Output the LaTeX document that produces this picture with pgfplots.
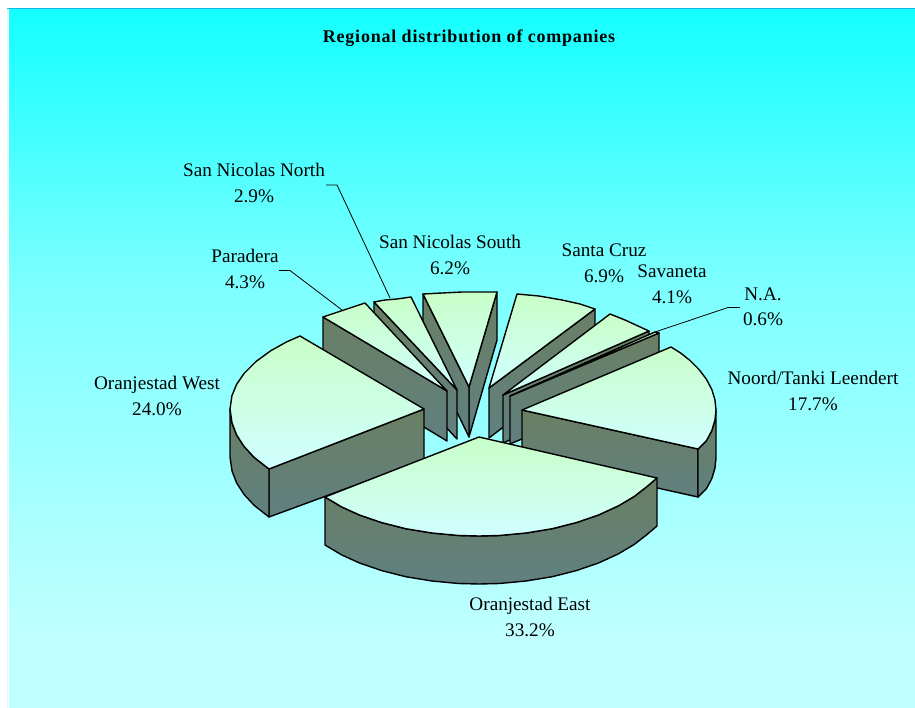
\documentclass[border=0pt]{standalone}
\usepackage{pgfplots}
\pgfplotsset{compat=1.18}
\usepackage{fontspec}
\setmainfont{Liberation Serif}
\newfontfamily\titlefont[LetterSpace=4.4]{Liberation Serif}
\definecolor{bg0}{RGB}{20,255,255}
\definecolor{bg1}{RGB}{125,255,255}
\definecolor{bg2}{RGB}{172,255,255}
\definecolor{bg3}{RGB}{192,255,255}
\definecolor{topA}{RGB}{200,255,200}
\definecolor{topB}{RGB}{208,255,255}
\definecolor{wallA}{RGB}{106,128,100}
\definecolor{wallB}{RGB}{96,128,128}
\definecolor{edgeL}{RGB}{225,245,245}
\pgfdeclareverticalshading{bgshade}{100bp}{color(0bp)=(bg3); color(29.9bp)=(bg3); color(37.7bp)=(bg2); color(55.3bp)=(bg1); color(75bp)=(bg0); color(100bp)=(bg0)}
\tikzset{
  topface/.style={draw=black, line width=1.4bp, line join=round, top color=topA, bottom color=topB},
  wall/.style={draw=black, line width=1.4bp, line join=round, top color=wallA, bottom color=wallB},
  leader/.style={draw=black, line width=0.8bp},
  lab/.style={anchor=base, inner sep=0pt, font=\fontsize{19.2bp}{23bp}\selectfont, text=black}
}
\begin{document}
\begin{tikzpicture}
\begin{axis}[
  at={(0,0)}, anchor=south west,
  width=915bp, height=708bp, scale only axis,
  xmin=0, xmax=915, ymin=0, ymax=708, y dir=reverse,
  axis lines=none, ticks=none, clip=true,
]
% white page
\addplot[fill=white, draw=none] coordinates {(0,0) (915,0) (915,708) (0,708)} -- cycle;
% frame and background
\addplot[fill=edgeL, draw=none] coordinates {(7,8) (915,8) (915,708) (7,708)} -- cycle;
\addplot[fill=cyan!90!white, draw=none] coordinates {(7,8) (915,8) (915,9) (7,9)} -- cycle;
\addplot[fill=white, draw=none] coordinates {(8,9) (915,9) (915,708) (8,708)} -- cycle;
\addplot[shade, shading=bgshade, draw=none] coordinates {(9,10) (915,10) (915,708) (9,708)} -- cycle;

% Santa Cruz
\addplot[wall] coordinates {(489,388) (595,309) (595,357) (489,438)} -- cycle;
\addplot[topface] coordinates {(489,388) (595,309) (580,304) (562,300) (539,296) (517,294)} -- cycle;
% San Nicolas South
\addplot[wall] coordinates {(469,387) (497,292) (497,340) (469,437)} -- cycle;
\addplot[wall] coordinates {(469,387) (423,294) (423,342) (469,437)} -- cycle;
\addplot[topface] coordinates {(469,387) (497,292) (479,292) (462,292) (442,293) (423,294)} -- cycle;
% San Nicolas North
\addplot[wall] coordinates {(457,390) (374,302) (374,350) (457,439)} -- cycle;
\addplot[topface] coordinates {(457,390) (411,297) (397,299) (385,300) (374,302)} -- cycle;
% Paradera
\addplot[wall] coordinates {(447,391) (323,317) (323,366) (447,441)} -- cycle;
\addplot[topface] coordinates {(447,391) (365,303) (356,306) (344,310) (323,317)} -- cycle;
% Savaneta
\addplot[wall] coordinates {(503,395) (649,331) (649,379) (503,443)} -- cycle;
\addplot[topface] coordinates {(503,395) (649,331) (638,326) (625,320) (610,314)} -- cycle;
% N.A.
\addplot[wall] coordinates {(510,396) (659,333) (659,381) (510,444)} -- cycle;
\addplot[topface] coordinates {(510,396) (659,333) (655,332)} -- cycle;
% Noord/Tanki Leendert
\addplot[wall] coordinates {(522,410) (698,449) (698,497) (522,458)} -- cycle;
\addplot[wall] coordinates {(698,449) (706.5,440.6) (711.8,430.6) (714.9,420.3) (716,410) (716,458) (714.9,468.3) (711.8,478.6) (706.5,488.6) (698,497)} -- cycle;
\addplot[topface] coordinates {(522,410) (698,449) (706.5,440.6) (711.8,430.6) (714.9,420.3) (716,410) (714.9,399.7) (711.8,389.4) (706.5,379.4) (699.2,369.7) (690,360.5) (680.9,353.2) (671,347)} -- cycle;
% Oranjestad West
\addplot[wall] coordinates {(424,409) (269,469) (269,517) (424,460)} -- cycle;
\addplot[wall] coordinates {(230,409) (232,422.9) (236.6,434.9) (244.1,446.5) (254.3,457.5) (269,469) (269,517) (254.3,505.5) (244.1,494.5) (236.6,482.9) (232,470.9) (230,457)} -- cycle;
\addplot[topface] coordinates {(424,409) (300,336) (286.8,341.8) (271.1,350.5) (256,361.5) (244.1,373.4) (236.6,384.4) (231.9,395.8) (230,409) (232,422.9) (236.6,434.9) (244.1,446.5) (254.3,457.5) (269,469)} -- cycle;
% Oranjestad East
\addplot[wall] coordinates {(325,497) (341.8,507) (359.5,515) (382,522.7) (406.3,528.8) (432,533) (458.7,535.5) (479,536) (499.3,535.5) (526,533) (551.7,528.8) (576,522.7) (598.5,515) (618.5,505.8) (634,496.6) (647,486.5) (657,478) (657,526) (647,534.5) (634,544.6) (618.5,553.8) (598.5,563) (576,570.7) (551.7,576.8) (526,581) (499.3,583.5) (479,584) (458.7,583.5) (432,581) (406.3,576.8) (382,570.7) (359.5,563) (341.8,555) (325,545)} -- cycle;
\addplot[topface] coordinates {(479,437) (657,478) (647,486.5) (634,496.6) (618.5,505.8) (598.5,515) (576,522.7) (551.7,528.8) (526,533) (499.3,535.5) (479,536) (458.7,535.5) (432,533) (406.3,528.8) (382,522.7) (359.5,515) (341.8,507) (325,497)} -- cycle;

% leader lines
\addplot[leader] coordinates {(326,185) (337,185) (390,298)};
\addplot[leader] coordinates {(279,270.5) (290,270.5) (342,310)};
\addplot[leader] coordinates {(740,307.5) (728,307.5) (655,332)};

% texts
\node[anchor=base, inner sep=0pt, font=\titlefont\bfseries\fontsize{18bp}{22bp}\selectfont, text=black] at (axis cs:469,43) {Regional distribution of companies};
\node[lab] at (axis cs:254,177) {San Nicolas North};
\node[lab] at (axis cs:254,203) {2.9\%};
\node[lab] at (axis cs:245,262) {Paradera};
\node[lab] at (axis cs:245,288) {4.3\%};
\node[lab] at (axis cs:450,248) {San Nicolas South};
\node[lab] at (axis cs:450,274) {6.2\%};
\node[lab] at (axis cs:604,256) {Santa Cruz};
\node[lab] at (axis cs:604,282) {6.9\%};
\node[lab] at (axis cs:672,277) {Savaneta};
\node[lab] at (axis cs:672,303) {4.1\%};
\node[lab] at (axis cs:763,300) {N.A.};
\node[lab] at (axis cs:763,325) {0.6\%};
\node[lab] at (axis cs:813,384) {Noord/Tanki Leendert};
\node[lab] at (axis cs:813,410) {17.7\%};
\node[lab] at (axis cs:157,389) {Oranjestad West};
\node[lab] at (axis cs:157,415) {24.0\%};
\node[lab] at (axis cs:530,610) {Oranjestad East};
\node[lab] at (axis cs:530,636) {33.2\%};
\end{axis}
\end{tikzpicture}
\end{document}
